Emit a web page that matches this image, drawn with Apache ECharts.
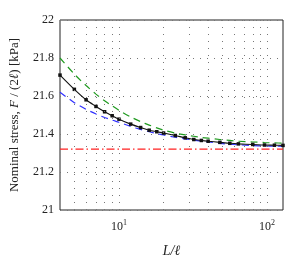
<!DOCTYPE html>
<html><head><meta charset="utf-8">
<script src="https://cdn.jsdelivr.net/npm/echarts@6/dist/echarts.min.js"></script>
<style>html,body{margin:0;padding:0;background:#fff}#c{width:289px;height:263px}</style>
</head><body><div id="c"></div>
<script>
const L = [4,5,6,7,8,9,10,12,14,16,18,20,24,28,32,36,40,48,56,64,80,96,112,128];
const F_black = [21.71,21.635,21.58,21.545,21.517,21.496,21.478,21.452,21.434,21.42,21.412,21.405,21.392,21.38,21.371,21.366,21.362,21.356,21.351,21.348,21.345,21.342,21.341,21.34];
const F_green = [21.80,21.715,21.655,21.61,21.575,21.548,21.525,21.49,21.465,21.447,21.432,21.42,21.405,21.395,21.388,21.382,21.378,21.371,21.366,21.362,21.358,21.355,21.353,21.352];
const F_blue = [21.62,21.565,21.53,21.505,21.487,21.473,21.462,21.44,21.424,21.412,21.402,21.395,21.383,21.374,21.368,21.362,21.358,21.351,21.346,21.343,21.339,21.337,21.336,21.335];
const F_limit = 21.32;
const vGrid = [5,6,7,8,9,10,20,30,40,50,60,70,80,90,100];
const xTickLabels = {10:'1', 100:'2'};

const font = 'Liberation Serif';
const zip = (xs, ys) => xs.map((x,i)=>[x, ys[i]]);
const chart = echarts.init(document.getElementById('c'), null, {renderer:'canvas'});
chart.setOption({
  animation:false,
  backgroundColor:'#fff',
  grid:{left:58,right:6,top:20,bottom:47,show:true,borderColor:'#222',borderWidth:1,backgroundColor:'transparent'},
  xAxis:{
    type:'log', logBase:10, min:4, max:128,
    name:'L/ℓ', nameLocation:'middle', nameGap:34,
    nameTextStyle:{fontFamily:font,fontStyle:'italic',fontSize:14,color:'#222'},
    axisLine:{show:false}, axisTick:{show:false}, splitLine:{show:false},
    axisLabel:{
      showMinLabel:false, showMaxLabel:false, margin:9,
      formatter:function(v){ const e = xTickLabels[Math.round(v)]; return e ? '{b|10}{s|'+e+'}' : ''; },
      rich:{b:{fontFamily:font,fontSize:12,color:'#222'},s:{fontFamily:font,fontSize:8,color:'#222',verticalAlign:'bottom',padding:[0,0,7,0]}}
    }
  },
  yAxis:{
    type:'value', min:21, max:22, interval:0.2,
    name:'{n|Nominal stress, }{i|F}{n| / (2}{i|ℓ}{n|) [kPa]}', nameLocation:'middle', nameGap:39,
    nameTextStyle:{rich:{n:{fontFamily:font,fontSize:13,color:'#222'},i:{fontFamily:font,fontSize:13,fontStyle:'italic',color:'#222'}}},
    axisLine:{show:false}, axisTick:{show:false},
    axisLabel:{fontFamily:font,fontSize:12,color:'#222',margin:6,formatter:v=>String(Math.round(v*10)/10)},
    splitLine:{show:true,lineStyle:{color:'#777',type:[1,6],width:1}}
  },
  series:[
    {type:'line',data:[],silent:true,
     markLine:{silent:true,symbol:'none',label:{show:false},
       lineStyle:{color:'#777',type:[1,6],width:1},
       data:vGrid.map(v=>({xAxis:v}))}},
    {type:'line',data:zip([4,128],[F_limit,F_limit]),symbol:'none',lineStyle:{color:'#ff2020',width:1.2,type:[8,3,1.5,3]}},
    {type:'line',data:zip(L,F_green),symbol:'none',smooth:0.3,lineStyle:{color:'#1f9a1f',width:1.2,type:[7,5]}},
    {type:'line',data:zip(L,F_blue),symbol:'none',smooth:0.3,lineStyle:{color:'#3030ff',width:1.2,type:[7,5]}},
    {type:'line',data:zip(L,F_black),symbol:'rect',symbolSize:3.5,smooth:0.3,itemStyle:{color:'#111'},lineStyle:{color:'#111',width:1.1}}
  ]
});
</script></body></html>
